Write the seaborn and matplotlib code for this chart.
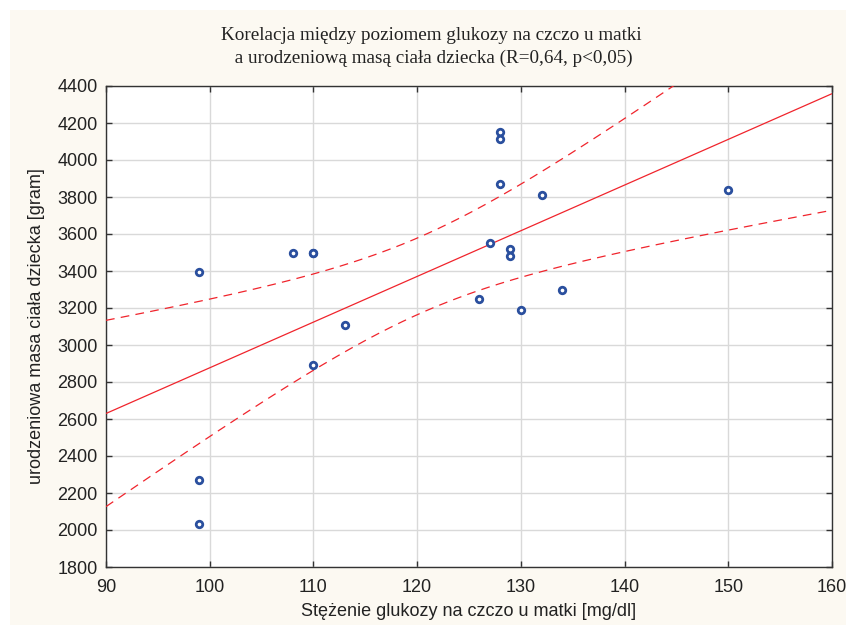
import numpy as np
import pandas as pd
import matplotlib
matplotlib.use("Agg")
import matplotlib.pyplot as plt
import matplotlib.patches as mpatches
import seaborn as sns

# Maternal fasting glucose [mg/dl] and birth weight [g]
glucose = [99, 99, 99, 108, 110, 110, 110, 113, 126, 127, 128, 128, 128, 129, 129, 130, 132, 134, 150]
weight = [3395, 2270, 2030, 3500, 3500, 3500, 2890, 3110, 3250, 3550, 4150, 4115, 3870, 3520, 3480, 3190, 3810, 3295, 3840]

x_ticks = [90, 100, 110, 120, 130, 140, 150, 160]
y_ticks = list(range(1800, 4401, 200))

title = "Korelacja między poziomem glukozy na czczo u matki\n a urodzeniową masą ciała dziecka (R=0,64, p<0,05)"
x_label = "Stężenie glukozy na czczo u matki [mg/dl]"
y_label = "urodzeniowa masa ciała dziecka [gram]"

df = pd.DataFrame({"glucose": glucose, "weight": weight})

sns.set_theme(style="white")
plt.rcParams["font.family"] = ["Liberation Sans", "DejaVu Sans"]

fig = plt.figure(figsize=(8.46, 6.25), dpi=100)
fig.patch.set_facecolor("white")
fig.patches.append(mpatches.Rectangle((10 / 846, 0), 1 - 10 / 846, 1 - 10 / 625,
                                      transform=fig.transFigure, facecolor="#fcf9f2",
                                      edgecolor="none", zorder=-10))

ax = fig.add_axes([106 / 846, 1 - 567 / 625, 726 / 846, 481 / 625])
ax.set_facecolor("white")

# Least squares fit with 95% confidence band for the mean
xv = np.asarray(glucose, float)
yv = np.asarray(weight, float)
n = len(xv)
b1, b0 = np.polyfit(xv, yv, 1)
resid = yv - (b0 + b1 * xv)
s = np.sqrt(np.sum(resid ** 2) / (n - 2))
sxx = np.sum((xv - xv.mean()) ** 2)
t = 2.1098  # t(0.975, 17)
xx = np.linspace(90, 160, 300)
yy = b0 + b1 * xx
half = t * s * np.sqrt(1 / n + (xx - xv.mean()) ** 2 / sxx)

red = "#f0242c"
sns.lineplot(x=xx, y=yy, ax=ax, color=red, lw=0.9, zorder=3)
sns.lineplot(x=xx, y=yy + half, ax=ax, color=red, lw=0.9, zorder=3)
sns.lineplot(x=xx, y=yy - half, ax=ax, color=red, lw=0.9, zorder=3)
for ln in ax.lines[1:3]:
    ln.set_dashes([7, 5])

sns.scatterplot(data=df, x="glucose", y="weight", ax=ax, marker="o", s=22,
                facecolor="white", edgecolor="#2a4f9e", linewidth=2.0, zorder=4)

ax.set_xlim(90, 160)
ax.set_ylim(1800, 4400)
ax.set_xticks(x_ticks)
ax.set_yticks(y_ticks)
ax.grid(True, color="#d9d9d9", lw=1.0)
ax.set_axisbelow(True)
ax.tick_params(axis="both", direction="in", length=4, width=1, color="#333333",
               labelsize=13, labelcolor="#222222", top=True, right=True,
               bottom=True, left=True)
ax.tick_params(axis="x", pad=9)
ax.tick_params(axis="y", pad=6)
for sp in ax.spines.values():
    sp.set_color("#333333")
    sp.set_linewidth(1.0)
    sp.set_visible(True)

ax.set_xlabel(x_label, fontsize=13, color="#222222", labelpad=5)
ax.set_ylabel(y_label, fontsize=13, color="#222222", labelpad=9)

fig.text(431 / 846, 1 - 47 / 625, title, ha="center", va="center",
         fontsize=13.8, family=["Liberation Serif", "DejaVu Serif"], color="#222222",
         linespacing=1.5)

fig.savefig("out.png", dpi=100, facecolor=fig.get_facecolor())
